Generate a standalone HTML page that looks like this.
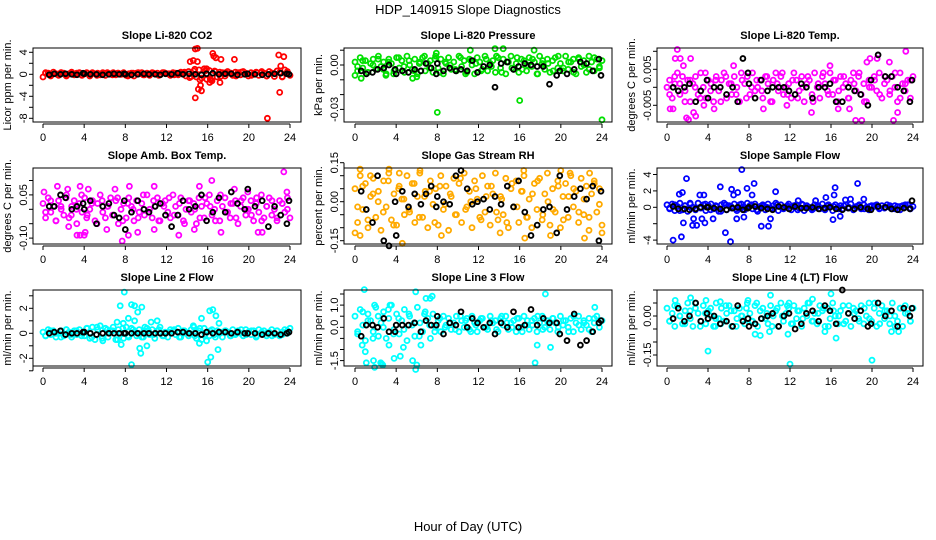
<!DOCTYPE html>
<html><head><meta charset="utf-8"><title>HDP_140915 Slope Diagnostics</title>
<style>
html,body{margin:0;padding:0;background:#fff;}
svg{display:block;font-family:"Liberation Sans",Arial,sans-serif;}
</style></head>
<body>
<svg id="chart" width="936" height="540" viewBox="0 0 936 540" xmlns="http://www.w3.org/2000/svg">
<text x="468" y="14" text-anchor="middle" font-size="13">HDP_140915  Slope Diagnostics</text>
<text x="468" y="531" text-anchor="middle" font-size="13">Hour of Day (UTC)</text>
</svg>
<script>
// ---------- shared time data ----------
const xTicks = [0,4,8,12,16,20,24];
const blackHours = [0.6,1.1,1.7,2.2,2.8,3.3,3.9,4.0,4.6,5.2,5.8,6.4,6.9,7.4,7.9,8.0,8.6,9.2,9.8,10.3,10.9,11.4,11.9,12.5,13.1,13.6,14.2,14.8,15.4,15.9,16.5,17.1,17.7,18.3,18.9,19.6,19.9,20.6,21.3,21.9,22.5,23.1,23.7,23.9];

// ---------- panel 1: CO2 ----------
const co2Main = [-0.5,0.3,0.2,-0.1,0.4,0.1,-0.2,0.3,0.2,-0.3,0.1,0.4,-0.1,0.2,0.3,-0.2,0.1,0.2,-0.3,0.3,0.1,0.2,-0.1,0.3,-0.2,0.2,0.1,0.3,-0.1,0.2,0.0,0.3,-0.2,0.1,0.2,-0.3,0.2,0.1,0.3,-0.1,0.2,-0.2,0.3,0.1,0.2,-0.1,0.3,0.2,0.1,-0.2,0.3,0.2,-0.1,0.4,0.2,-0.3,0.5,-0.4,0.6,-0.5,0.8,-0.7,1.0,-0.9,0.7,-1.2,0.6,-0.5,0.4,0.3,-0.3,0.5,0.2,-0.2,0.4,0.3,-0.1,0.5,0.2,-0.3,0.3,0.1,0.4,-0.2,0.3,0.2,-0.3,0.5,0.2,-0.4,0.6,0.3,-0.5,0.8,0.5,-0.2];
const co2Main2 = [0.2,-0.3,0.1,0.3,-0.2,0.2,0.1,-0.1,0.3,0.2,-0.2,0.1,0.3,-0.1,0.2,0.1,-0.3,0.2,0.3,-0.1,0.1,0.2,-0.2,0.3,0.1,-0.1,0.2,0.4,-0.6,0.9,-1.0,0.6,-0.8,0.5,-0.4,0.3,0.2,-0.3,0.4,0.1,-0.2,0.3,0.5,-0.3,0.2,0.6,-0.4,0.3];
const co2OutHours = [15,14.8,14.3,14.6,15,15.3,15.1,15.4,14.8,16.5,16.6,16.8,17.3,17.2,16.3,18.6,22.9,23.4,23,21.8,23.1,15.9,16.2];
const co2OutVals  = [4.7,4.6,2.3,2.5,2.3,-2,-2.7,-3,-4.3,3.8,3.3,3.0,2.7,-1.5,-1,2.7,3.5,3.2,-3.3,-8,1.5,1.0,-1.5];
const co2Black = [-0.1,0.1,0,0.1,0,-0.1,0.2,0.1,0,0,-0.1,0,0.1,0,0.1,0,-0.1,0,0.1,0,0,-0.1,0.1,0,0.2,0,0.1,0,-0.1,0.1,0.2,0,0.1,0.1,-0.1,0,0.1,0,-0.1,0,0.1,0.2,0.1,0];

// ---------- panel 2: pressure ----------
const presMain = [0.002,-0.004,0.005,-0.002,0.003,-0.005,0.001,0.004,-0.003,0.006,-0.001,0.002,-0.006,0.004,0.001,-0.004,0.005,-0.002,0.003,-0.005,0.006,0.000,-0.003,0.004,-0.006,0.002,0.005,-0.004,0.001,0.003,-0.005,0.006,-0.002,0.004,-0.006,0.001,0.005,-0.003,0.002,-0.004,0.006,-0.001,0.003,-0.005,0.004,0.000,-0.006,0.005,0.002,-0.003,0.006,-0.004,0.001,0.003,-0.005,0.005,-0.002,0.004,-0.006,0.002,0.006,-0.003,0.001,-0.005,0.004,0.003,-0.004,0.005,-0.001,0.002,-0.006,0.006,0.001,-0.003,0.004,-0.005,0.003,0.005,-0.002,0.001,-0.004,0.006,-0.003,0.002,0.004,-0.006,0.005,-0.001,0.003,-0.005,0.006,0.002,-0.004,0.004,-0.002,0.003];
const presMain2 = [-0.001,0.003,-0.005,0.000,0.004,-0.003,0.002,-0.006,0.005,-0.001,0.003,-0.004,0.001,0.006,-0.002,0.004,-0.005,0.002,0.000,-0.003,0.005,-0.006,0.003,0.001,-0.004,0.004,-0.001,0.006,-0.005,0.002,-0.002,0.005,-0.003,0.000,0.004,-0.006,0.003,0.001,-0.004,0.006,-0.002,0.002,-0.005,0.004,0.000,-0.003,0.005,-0.001];
const presOutHours = [8,16,24,13.6,11.2,14.4,7.9,0,0.6,3,5.6,6,17.4];
const presOutVals  = [-0.032,-0.024,-0.037,0.011,0.010,0.011,0.008,-0.007,-0.009,-0.007,-0.009,-0.008,0.010];
const presBlack = [-0.004,-0.006,-0.005,-0.003,-0.002,0.000,-0.003,-0.006,-0.004,-0.005,-0.003,-0.004,0.001,-0.002,-0.006,0.001,-0.004,-0.002,-0.004,-0.003,-0.004,0.003,-0.005,-0.001,0.000,-0.015,0.001,0.002,-0.003,-0.001,0.001,0.000,-0.001,-0.001,-0.013,-0.007,-0.004,-0.006,-0.003,0.002,0.001,-0.004,0.004,-0.007];

// ---------- panel 3: Li-820 temp ----------
const tempMain = [0,0.002,-0.003,0.001,0.004,-0.002,0.003,-0.001,0.002,-0.004,0.001,0.003,-0.002,0.004,0,-0.003,0.002,0.001,-0.004,0.003,-0.001,0.002,0.004,-0.003,0.001,-0.002,0.003,0,-0.004,0.002,0.001,0.003,-0.002,0.004,-0.001,0,0.002,-0.003,0.003,0.001,-0.004,0.002,0.004,-0.001,0.003,-0.002,0,0.001,-0.003,0.004,0.002,-0.001,0.003,-0.004,0.001,0.002,-0.002,0.004,0,-0.003,0.003,0.001,-0.001,0.004,-0.002,0.002,-0.004,0.003,0,0.001,-0.003,0.002,0.004,-0.001,0.003,-0.002,0.001,-0.004,0.002,0,0.003,-0.001,0.004,-0.003,0.001,0.002,-0.002,0.003,0,-0.004,0.004,0.001,-0.001,0.002,-0.003,0.003];
const tempMain2 = [-0.002,0.003,0.001,-0.004,0.002,0.000,-0.003,0.004,-0.001,0.002,-0.004,0.003,0.001,-0.002,0.004,-0.003,0.000,0.002,-0.001,0.003,-0.004,0.001,0.004,-0.002,0.002,-0.003,0.000,0.003,-0.004,0.001,0.004,-0.002,0.002,-0.001,0.003,-0.003,0.001,0.004,-0.004,0.000,0.002,-0.002,0.003,-0.001,0.004,-0.003,0.001,0.002];
const tempOutHours = [1.0,0.8,1.3,2.3,1.6,0.3,0.6,1.9,2.1,2.6,2.8,3.6,4.6,23.3,20.5,19.8,21.7,18.4,19.0,22.1,17.8,22.5,16.7,11.7,9.4,14.1,19.5,15.9,6.5];
const tempOutVals  = [0.0105,0.008,0.008,0.008,0.006,-0.006,-0.006,-0.0085,-0.009,-0.007,-0.008,-0.005,-0.006,0.010,0.008,0.008,0.007,-0.0092,-0.0092,-0.0092,-0.006,-0.007,-0.006,-0.005,-0.006,-0.007,0.007,0.006,0.006];
const tempBlack = [0,-0.001,0,0.001,-0.004,-0.001,0.002,-0.003,0,0,-0.002,0,-0.004,0.008,0.004,0.001,-0.003,0.002,-0.001,0,0,0,-0.001,-0.002,0.001,0,-0.003,0,0,0.001,-0.004,-0.004,0,-0.001,-0.002,-0.005,0.002,0.009,0.003,0.003,0,-0.001,-0.004,0.002];

// ---------- panel 4: amb box temp ----------
const ambMain = [0.02,-0.03,0.04,-0.01,0.01,-0.04,0.03,0,-0.02,0.05,-0.03,0.01,0.03,-0.05,0.02,-0.01,0.04,-0.02,0,0.03,-0.04,0.02,0.05,-0.01,-0.03,0.01,0.04,-0.02,0.03,-0.05,0,0.02,-0.03,0.04,0.01,-0.04,0.03,-0.01,0.02,-0.02,0.05,0,-0.03,0.01,0.04,-0.04,0.02,0.03,-0.01,-0.03,0.05,0.01,-0.02,0.04,-0.04,0,0.03,-0.01,0.02,-0.05,0.04,0.01,-0.03,0.02,0.05,-0.02,0,0.03,-0.04,0.01,0.04,-0.01,-0.03,0.02,0.03,-0.05,0.01,0.04,-0.02,0,0.03,-0.04,0.02,-0.01,0.05,-0.03,0.01,0.04,-0.02,0,-0.04,0.03,0.02,-0.01,0.04,-0.03];
const ambMain2 = [-0.01,0.03,-0.04,0.01,0.04,-0.02,0.00,0.05,-0.03,0.02,-0.05,0.03,0.01,-0.02,0.04,-0.04,0.02,0.00,-0.03,0.05,-0.01,0.03,-0.04,0.01,0.04,-0.02,0.02,-0.05,0.03,0.00,-0.03,0.04,0.01,-0.04,0.05,-0.01,0.02,-0.03,0.03,0.00,-0.02,0.04,-0.04,0.01,0.03,-0.03,0.02,0.00];
const ambOutHours = [0.1,1.4,2.4,3.6,4.4,7.0,8.4,10.8,15.2,16.4,18.6,19.9,23.4,23.7,3.3,3.6,4.1,4.0,7.7,8.3,9.2,10.8,13.2,14.7,17.3,20.9,21.3,2.5,6.2];
const ambOutVals  = [0.06,0.08,0.07,0.08,0.07,0.07,0.08,0.08,0.08,0.10,0.07,0.06,0.13,0.06,-0.09,-0.09,-0.08,-0.09,-0.11,-0.09,-0.08,-0.07,-0.09,-0.07,-0.08,-0.08,-0.08,-0.06,-0.07];
const ambBlack = [0.01,0.01,0.05,0.04,0,0.01,0.02,0,0.03,-0.05,0.01,0.02,-0.02,-0.03,0.03,-0.07,-0.01,0.03,0,-0.01,0.01,0.02,-0.02,-0.06,-0.02,0.03,0,0.01,0.05,-0.04,-0.01,0.04,-0.01,0.06,0.02,0,0.07,0.01,0.03,-0.06,0.01,-0.02,-0.05,0.03];

// ---------- panel 5: gas stream RH ----------
const rhMain = [0.05,-0.08,0.10,-0.03,0.07,-0.10,0.02,0.09,-0.06,0.04,-0.11,0.08,-0.02,0.11,-0.07,0.03,-0.09,0.06,0.01,-0.05,0.10,-0.04,0.07,-0.08,0.02,0.12,-0.06,0.04,-0.10,0.08,-0.01,0.05,-0.09,0.10,-0.03,0.06,-0.11,0.02,0.09,-0.05,0.07,-0.08,0.11,-0.02,0.04,-0.10,0.08,0.01,-0.06,0.10,-0.04,0.06,-0.09,0.03,0.11,-0.07,0.02,-0.05,0.09,-0.10,0.05,-0.02,0.08,-0.08,0.04,0.10,-0.06,0.01,-0.10,0.07,-0.03,0.09,-0.07,0.03,0.11,-0.09,0.05,-0.04,0.08,-0.10,0.02,0.07,-0.06,0.10,-0.02,0.04,-0.08,0.09,-0.05,0.06,-0.11,0.03,0.08,-0.04,0.05,-0.09];
const rhMain2 = [-0.02,0.06,-0.07,0.03,0.00,-0.04,0.08,-0.09,0.05,0.01,-0.03,0.07,-0.06,0.02,0.04,-0.08,0.06,-0.01,0.03,-0.05,0.09,-0.03,0.00,0.05,-0.07,0.02,0.06,-0.04,0.01,-0.08,0.07,-0.02,0.04,-0.06,0.03,0.08,-0.05,0.00,-0.03,0.06,-0.07,0.02,0.05,-0.04,0.01,-0.06,0.07,-0.01];
const rhOutHours = [0.5,1.5,3.3,4.3,6.3,16.4,20,20.9,22.8,0,0.5,4.6,8.4,14.1,19,22.3,24,16.5];
const rhOutVals  = [0.125,0.10,0.125,0.11,0.11,0.12,0.12,0.11,0.11,-0.12,-0.13,-0.16,-0.13,-0.12,-0.13,-0.14,-0.12,-0.14];
const rhBlack = [0.04,-0.03,-0.08,0.10,-0.15,-0.17,0,-0.13,0.04,-0.02,0.03,-0.01,0.03,0.06,-0.02,0.02,0,-0.01,0.10,0.12,0.05,-0.01,0,0.01,-0.03,0.02,-0.01,0.06,-0.02,0.08,-0.04,-0.13,-0.09,-0.03,-0.02,-0.12,0.10,-0.03,0.02,0.05,0.01,0.06,-0.15,0.04];

// ---------- panel 6: sample flow ----------
const sfMain = [0.3,-0.2,0.4,-0.4,0.1,0.5,-0.3,0.2,-0.5,0.4,0.0,-0.3,0.5,-0.1,0.3,-0.4,0.2,0.4,-0.2,0.1,-0.5,0.3,0.5,-0.3,0.2,-0.1,0.4,-0.4,0.3,0.0,-0.3,0.5,0.2,-0.2,0.4,-0.5,0.1,0.3,-0.3,0.4,-0.1,0.2,0.5,-0.4,0.3,-0.2,0.1,0.4,-0.3,0.2,0.3,-0.1,0.4,-0.4,0.2,0.0,-0.3,0.3,0.1,-0.2,0.4,-0.3,0.2,0.1,-0.4,0.3,0.0,0.2,-0.2,0.3,-0.1,0.4,-0.3,0.1,0.2,-0.2,0.3,0.0,-0.3,0.2,0.1,0.3,-0.2,0.2,-0.1,0.3,0.0,-0.2,0.2,0.1,-0.3,0.2,0.0,0.3,-0.2,0.1];
const sfMain2 = [-0.1,0.3,-0.4,0.2,0.5,-0.2,0.0,0.4,-0.3,0.2,-0.5,0.3,0.1,-0.2,0.4,-0.1,0.3,-0.3,0.2,0.0,-0.2,0.3,-0.1,0.2,0.1,-0.3,0.3,0.0,-0.2,0.2,-0.1,0.3,0.1,-0.2,0.2,0.0,-0.1,0.3,-0.2,0.1,0.2,-0.1,0.0,0.2,-0.2,0.1,0.3,-0.1];
const sfOutHours = [0.6,1.2,1.5,1.9,1.4,1.6,2.5,2.6,2.9,3.2,3.6,3.4,3.7,5.2,4.5,5.7,6.2,6.3,6.5,6.9,7.3,7.8,8.5,8.3,9.2,9.9,10.1,10.6,6.8,7.5,15.5,16.3,16.4,16.2,16.9,17.4,18.6,17.9,14.5,19.2,12.8];
const sfOutVals  = [-4,1.6,1.8,3.5,-3.6,-1.9,-2.2,-1.4,-2.2,1.5,1.5,-1.4,-1.9,2.5,-1.4,-3.1,-4.2,2.2,1.5,1.8,4.6,2.3,2.9,1.5,-2.3,-2.3,-1.4,1.9,-1.4,-1.2,1.2,1.5,2.4,-1.5,-1.1,0.9,2.9,1.0,0.8,1.0,0.8];
const sfBlack = [0.1,-0.2,-0.2,-0.3,-0.2,0,0,0,-0.1,-0.2,-0.3,-0.1,0,-0.3,-0.1,0,0.1,-0.1,-0.2,-0.3,0.1,0,-0.2,0.1,-0.1,-0.1,0,-0.2,-0.1,0,-0.2,-0.3,-0.1,-0.2,0,-0.2,-0.3,0.1,0,-0.2,-0.3,-0.1,-0.2,0.8];

// ---------- panel 7: line 2 flow ----------
const l2Main = [0.1,-0.2,0.3,-0.1,0.2,-0.3,0.0,0.2,-0.2,0.3,0.1,-0.3,0.2,-0.1,0.3,0.0,-0.2,0.4,-0.4,0.5,-0.5,0.3,0.6,-0.6,0.4,-0.3,0.2,0.5,-0.5,0.3,0.0,-0.4,0.5,-0.3,0.4,0.1,-0.2,0.3,-0.3,0.2,0.4,-0.1,0.3,-0.4,0.2,0.5,-0.2,0.1,-0.3,0.3,0.2,-0.1,0.4,-0.3,0.2,0.0,-0.2,0.3,0.5,-0.4,0.2,-0.5,0.4,0.1,-0.2,0.3,-0.1,0.2,0.0,-0.3,0.2,0.1,-0.2,0.3,-0.1,0.2,0.0,-0.2,0.3,0.1,-0.1,0.2,-0.3,0.3,0.0,0.2,-0.2,0.1,0.3,-0.1,0.2,-0.2,0.1,0.3,0.0,0.4];
const l2Main2 = [-0.2,0.2,0.0,-0.3,0.3,-0.1,0.2,-0.2,0.4,-0.3,0.5,-0.4,0.3,0.2,-0.5,0.4,-0.2,0.3,0.0,-0.3,0.2,-0.1,0.3,-0.2,0.1,0.3,-0.3,0.2,0.0,-0.2,0.4,-0.1,0.2,-0.3,0.1,0.2,-0.2,0.0,0.3,-0.1,0.2,-0.2,0.1,0.0,-0.2,0.2,-0.1,0.2];
const l2OutHours = [7.9,7.5,8.6,8.9,9.2,9.6,8.3,8.9,7.2,7.8,8.6,9.4,9.5,7.6,10.1,10.5,11.1,9.9,15.4,16.2,16.5,16.8,17.1,16,16.3,17.0,15.2,15.9,14.6];
const l2OutVals  = [3.3,2.2,2.3,2.2,1.7,2.1,1.2,1.0,0.9,0.8,-2.5,-1.2,-1.6,-0.9,-1.0,0.9,1.0,0.5,1.2,1.8,1.9,1.4,0.8,-2.3,-1.9,-1.3,-0.8,-0.6,0.6];
const l2Black = [0,0.1,0.2,-0.1,0,0,0.1,0.1,0,-0.1,0,0,0,0,0,0,0,0,0,0,0,0,0,0,0.1,0.1,0,0,-0.1,0.1,0,0.1,0.1,0,0.1,0,0,0,-0.1,0,0,-0.1,0,0.1];

// ---------- panel 8: line 3 flow ----------
const l3Main = [0.5,-0.3,0.8,0.1,-0.6,0.6,0.3,-0.2,0.9,-0.4,0.2,0.7,-0.5,0.4,1.0,-0.1,0.6,-0.3,0.3,0.8,-0.6,0.5,0.1,-0.4,0.9,0.2,-0.2,0.7,0.4,-0.5,0.6,0.0,0.3,-0.2,0.5,0.1,0.4,-0.1,0.2,0.5,-0.2,0.3,0.0,0.4,-0.1,0.5,0.2,-0.2,0.3,0.4,0.0,-0.1,0.5,0.2,0.3,-0.2,0.4,0.1,0.5,-0.1,0.2,0.3,-0.2,0.4,0.0,0.5,0.1,-0.1,0.3,0.4,-0.2,0.2,0.5,0.0,0.3,-0.1,0.4,0.2,-0.2,0.5,0.1,0.3,0.0,0.4,-0.2,0.2,0.5,-0.1,0.3,0.1,0.4,-0.2,0.2,0.5,0.0,0.3];
const l3Main2 = [-0.2,0.7,0.3,-0.5,0.5,0.0,0.8,-0.3,0.4,-0.1,0.6,0.2,-0.4,0.6,0.1,-0.2,0.4,0.0,0.2,-0.1,0.5,0.3,-0.2,0.1,0.4,0.0,0.3,-0.1,0.5,0.2,0.0,0.4,-0.2,0.3,0.1,0.5,-0.1,0.2,0.4,0.0,0.3,-0.2,0.5,0.1,0.2,-0.1,0.4,0.2];
const l3OutHours = [0.9,1.9,3.4,5.9,7.3,7.5,6.9,18.5,1.1,0.7,1.0,1.8,1.9,2.7,2.5,2.6,3.3,3.8,4.4,4.7,5.6,5.9,6.0,6.4,17.5,17.7,19,23.3];
const l3OutVals  = [1.7,1.0,1.0,1.6,1.3,1.4,1.3,1.5,-1.6,-0.8,-1.1,-1.5,-1.8,-1.7,-1.6,-1.65,-0.8,-1.4,-1.3,-0.9,-1.5,-1.9,-1.7,-0.8,-1.6,-0.8,-0.9,0.9];
const l3Black = [-0.4,0.1,0.1,0.0,0.4,-0.2,-0.2,0.1,0.1,0.1,0.2,-0.2,0.3,0.1,0.1,0.5,-0.3,0.2,0.1,0.7,0.0,0.4,0.2,0.0,0.2,-0.3,0.2,0.0,0.7,0.0,0.1,0.8,0.1,0.4,0.2,0.2,-0.3,-0.6,0.6,-0.8,-0.6,-0.2,0.2,0.3];

// ---------- panel 9: line 4 flow ----------
const l4Main = [0.03,-0.02,0.01,-0.04,0.04,0.0,-0.03,0.02,0.05,-0.01,-0.04,0.03,0.01,-0.02,0.04,-0.03,0.02,0.0,-0.04,0.05,-0.01,0.03,-0.02,0.01,0.04,-0.04,0.02,-0.01,0.03,0.0,-0.03,0.05,0.01,-0.02,0.04,-0.04,0.02,0.03,-0.01,-0.03,0.04,0.0,0.02,-0.04,0.05,-0.02,0.01,0.03,-0.03,0.04,-0.01,0.02,-0.04,0.03,0.0,0.05,-0.02,0.01,-0.03,0.04,0.02,-0.04,0.03,-0.01,0.05,0.0,-0.03,0.02,0.04,-0.02,0.01,-0.04,0.03,0.02,-0.01,0.04,-0.03,0.0,0.05,-0.02,0.03,-0.04,0.01,0.04,-0.01,0.02,-0.03,0.05,0.0,-0.02,0.03,-0.04,0.04,0.01,-0.02,0.03];
const l4Main2 = [-0.02,0.04,0.00,-0.03,0.02,0.05,-0.04,0.01,0.03,-0.01,-0.03,0.04,0.02,-0.04,0.00,0.03,-0.02,0.05,-0.01,0.01,-0.04,0.03,0.00,0.04,-0.03,0.02,-0.01,0.05,-0.02,0.01,0.03,-0.04,0.02,0.00,-0.03,0.04,0.01,-0.02,0.03,-0.01,0.05,-0.03,0.02,0.00,-0.04,0.03,0.01,-0.02];
const l4OutHours = [0.8,2.3,3.8,5.2,7.9,10.1,14.2,16,11.9,4,12,20,11.8,9.1,8.6,10.0,16.5,15.4,21.9,22.6,4.7];
const l4OutVals  = [0.06,0.07,0.06,0.055,0.06,0.08,0.065,0.085,0.05,-0.135,-0.185,-0.17,-0.07,-0.075,-0.07,-0.06,-0.085,-0.06,-0.06,-0.06,-0.04];
const l4Black = [-0.01,0.03,-0.02,0,0.05,-0.02,0.01,-0.01,0,-0.03,-0.02,-0.04,0.04,-0.02,-0.01,-0.04,-0.03,-0.01,0,0.01,-0.04,0,0.01,-0.05,-0.03,0.01,0.02,-0.02,0.04,0.02,-0.03,0.10,0.01,-0.01,0.02,-0.04,-0.03,0.05,0,0.02,-0.04,0.03,0,0.03];

// ---------- y tick values / labels ----------
const co2Ticks = [4,2,0,-2,-4,-6,-8];      const co2Labels = ["4","","0","","-4","","-8"];
const presTicks = [0.01,0,-0.01,-0.02,-0.03]; const presLabels = ["","0.00","","","-0.03"];
const tempTicks = [0.01,0.005,0,-0.005];   const tempLabels = ["","0.005","","-0.005"];
const ambTicks = [0.1,0.05,0,-0.05,-0.1];  const ambLabels = ["","0.05","","","-0.10"];
const rhTicks = [0.15,0.1,0.05,0,-0.05,-0.1,-0.15]; const rhLabels = ["0.15","","","0.00","","","-0.15"];
const sfTicks = [4,2,0,-2,-4];             const sfLabels = ["4","2","0","","-4"];
const l2Ticks = [3,2,1,0,-1,-2,-3];        const l2Labels = ["","2","","0","","-2",""];
const l3Ticks = [1.5,1,0.5,0,-0.5,-1,-1.5]; const l3Labels = ["","1.0","","0.0","","","-1.5"];
const l4Ticks = [0.1,0.05,0,-0.05,-0.1,-0.15]; const l4Labels = ["","","0.00","","","-0.15"];

const NS = "http://www.w3.org/2000/svg";
const svg = document.getElementById('chart');
function mk(tag, attrs, parent){ const e=document.createElementNS(NS,tag); for(const k in attrs) e.setAttribute(k,attrs[k]); (parent||svg).appendChild(e); return e; }

const cols = [{l:33,r:301,x0:43,x24:290},{l:344,r:612,x0:355,x24:602},{l:657,r:923,x0:667,x24:913}];
const rows = [{t:48,b:122},{t:168,b:244},{t:290,b:366}];

const panels = [
 {key:'co2',title:'Slope Li-820 CO2',ylab:'Licor ppm per min.',c:0,r:0,y0:74.3,ppu:5.5,color:'#ff0000',main:co2Main,main2:co2Main2,oh:co2OutHours,ov:co2OutVals,blk:co2Black,ticks:co2Ticks,labels:co2Labels},
 {key:'pressure',title:'Slope Li-820 Pressure',ylab:'kPa per min.',c:1,r:0,y0:65,ppu:1480,color:'#00e000',main:presMain,main2:presMain2,oh:presOutHours,ov:presOutVals,blk:presBlack,ticks:presTicks,labels:presLabels},
 {key:'licor-temp',title:'Slope Li-820 Temp.',ylab:'degrees C per min.',c:2,r:0,y0:87.3,ppu:3600,color:'#ff00ff',main:tempMain,main2:tempMain2,oh:tempOutHours,ov:tempOutVals,blk:tempBlack,ticks:tempTicks,labels:tempLabels},
 {key:'amb-temp',title:'Slope Amb. Box Temp.',ylab:'degrees C per min.',c:0,r:1,y0:209.3,ppu:288,color:'#ff00ff',main:ambMain,main2:ambMain2,oh:ambOutHours,ov:ambOutVals,blk:ambBlack,ticks:ambTicks,labels:ambLabels},
 {key:'rh',title:'Slope Gas Stream RH',ylab:'percent per min.',c:1,r:1,y0:201.7,ppu:260,color:'#ffaa00',main:rhMain,main2:rhMain2,oh:rhOutHours,ov:rhOutVals,blk:rhBlack,ticks:rhTicks,labels:rhLabels},
 {key:'sample-flow',title:'Slope Sample Flow',ylab:'ml/min per min.',c:2,r:1,y0:207.3,ppu:8.2,color:'#0000ff',main:sfMain,main2:sfMain2,oh:sfOutHours,ov:sfOutVals,blk:sfBlack,ticks:sfTicks,labels:sfLabels},
 {key:'line2',title:'Slope Line 2 Flow',ylab:'ml/min per min.',c:0,r:2,y0:333.3,ppu:12.5,color:'#00ffff',main:l2Main,main2:l2Main2,oh:l2OutHours,ov:l2OutVals,blk:l2Black,ticks:l2Ticks,labels:l2Labels},
 {key:'line3',title:'Slope Line 3 Flow',ylab:'ml/min per min.',c:1,r:2,y0:327.3,ppu:22.2,color:'#00ffff',main:l3Main,main2:l3Main2,oh:l3OutHours,ov:l3OutVals,blk:l3Black,ticks:l3Ticks,labels:l3Labels},
 {key:'line4',title:'Slope Line 4 (LT) Flow',ylab:'ml/min per min.',c:2,r:2,y0:316,ppu:260,color:'#00ffff',main:l4Main,main2:l4Main2,oh:l4OutHours,ov:l4OutVals,blk:l4Black,ticks:l4Ticks,labels:l4Labels}
];

panels.forEach(p=>{
  const C=cols[p.c], R=rows[p.r];
  const xs = h => C.x0 + (C.x24-C.x0)*h/24;
  const ys = v => p.y0 - p.ppu*v;
  const g = mk('g',{});
  
  
  const t = mk('text',{x:(C.l+C.r)/2,y:R.t-9,'text-anchor':'middle','font-size':'11','font-weight':'bold'},g);
  t.textContent=p.title;
  
  
  const yl = mk('text',{x:0,y:0,'text-anchor':'middle','font-size':'11',transform:`translate(${C.l-22},${(R.t+R.b)/2}) rotate(-90)`},g);
  yl.textContent=p.ylab;
  
  
  // points
  const pts = mk('g',{fill:'none'},g);
  
  
  const n=p.main.length;
  p.main.forEach((v,i)=>{
    const c = mk('circle',{cx:xs(24*i/(n-1)).toFixed(1),cy:ys(v).toFixed(1),r:2.5,stroke:p.color,'stroke-width':1.8},pts);
    
    
  });
  const n2=p.main2.length;
  p.main2.forEach((v,i)=>{
    const c = mk('circle',{cx:xs(24*(i+0.5)/n2).toFixed(1),cy:ys(v).toFixed(1),r:2.5,stroke:p.color,'stroke-width':1.8},pts);
    
    
  });
  p.oh.forEach((h,i)=>{
    const c = mk('circle',{cx:xs(h).toFixed(1),cy:ys(p.ov[i]).toFixed(1),r:2.5,stroke:p.color,'stroke-width':1.8},pts);
    
    
  });
  const bl = mk('g',{fill:'none'},g);
  
  
  const m=Math.min(blackHours.length,p.blk.length);
  for(let i=0;i<m;i++){
    const c = mk('circle',{cx:xs(blackHours[i]).toFixed(1),cy:ys(p.blk[i]).toFixed(1),r:2.4,stroke:'#000','stroke-width':1.9},bl);
    
    
  }
  // box
  const box = mk('rect',{x:C.l,y:R.t,width:C.r-C.l,height:R.b-R.t,fill:'none',stroke:'#000','stroke-width':1},g);
  
  
  // x axis
  const xa = mk('g',{stroke:'#000','stroke-width':1},g);
  
  
  mk('line',{x1:xs(0),x2:xs(24),y1:R.b+2,y2:R.b+2},xa);
  xTicks.forEach(h=>{
    mk('line',{x1:xs(h),x2:xs(h),y1:R.b+2,y2:R.b+6},xa);
    const lt = mk('text',{x:xs(h),y:R.b+19,'text-anchor':'middle','font-size':'11',stroke:'none',fill:'#000'},xa);
    lt.textContent=h;
    
    
  });
  // y axis
  const ya = mk('g',{stroke:'#000','stroke-width':1},g);
  
  
  const ax=C.l;
  mk('line',{x1:ax,x2:ax,y1:ys(p.ticks[0]),y2:ys(p.ticks[p.ticks.length-1])},ya);
  p.ticks.forEach((v,i)=>{
    const yy=ys(v);
    mk('line',{x1:ax-4,x2:ax,y1:yy,y2:yy},ya);
    if(p.labels[i]){
      const lt = mk('text',{x:0,y:0,'text-anchor':'middle','font-size':'11',stroke:'none',fill:'#000',transform:`translate(${ax-6},${yy}) rotate(-90)`},ya);
      lt.textContent=p.labels[i];
      
      
    }
  });
});
</script>
</body></html>
